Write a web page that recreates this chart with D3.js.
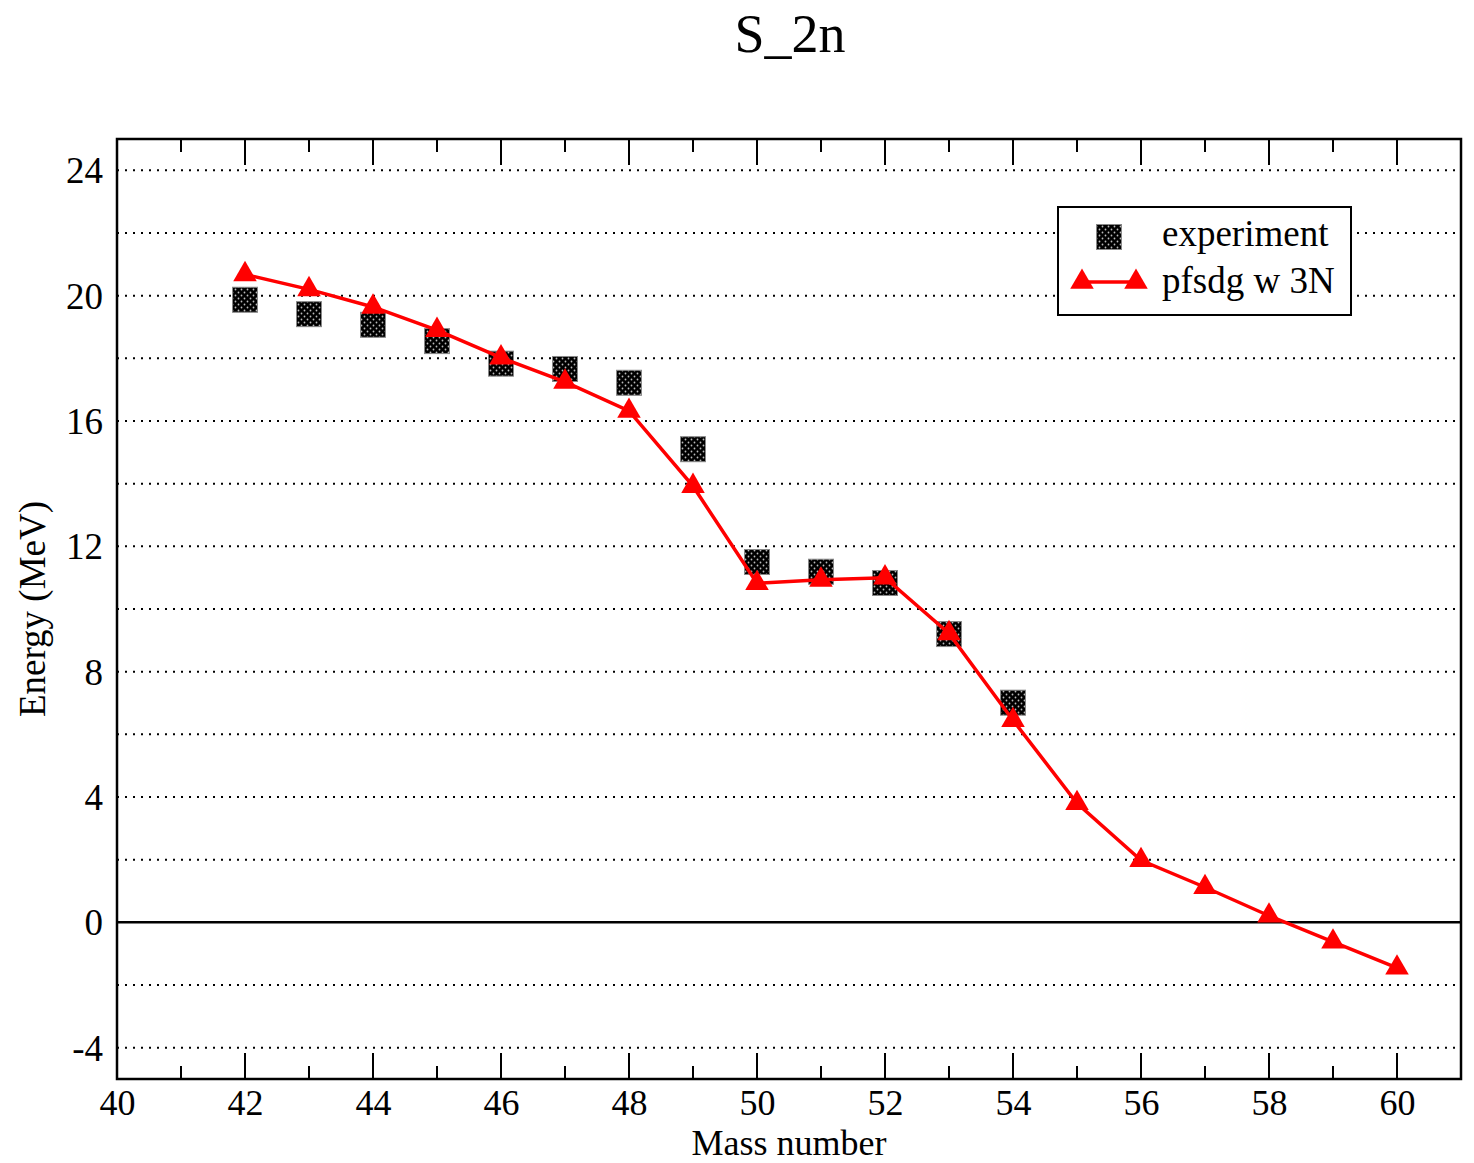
<!DOCTYPE html>
<html><head><meta charset="utf-8">
<script src="https://cdn.jsdelivr.net/npm/d3@7"></script>
<style>body{margin:0;background:#fff}svg{display:block}text{font-family:"Liberation Serif","Times New Roman",serif}</style>
</head><body>
<svg id="chart" width="1474" height="1163"></svg>
<script>
const expMass = [42,43,44,45,46,47,48,49,50,51,52,53,54];
const expEnergy = [19.87,19.41,19.07,18.55,17.83,17.66,17.22,15.1,11.5,11.19,10.83,9.2,7.01];
const thMass = [42,43,44,45,46,47,48,49,50,51,52,53,54,55,56,57,58,59,60];
const thEnergy = [20.68,20.2,19.64,18.9,18.02,17.25,16.32,13.92,10.82,10.93,11.0,9.22,6.45,3.8,1.98,1.12,0.21,-0.62,-1.45];
const xTicks = [40,42,44,46,48,50,52,54,56,58,60];
const yTicks = [-4,0,4,8,12,16,20,24];
const yGrid = [-4,-2,2,4,6,8,10,12,14,16,18,20,22,24];
const seriesNames = ["experiment","pfsdg w 3N"];

const svg = d3.select("#chart");
const L=117,R=1461,T=139,B=1079;
const x = d3.scaleLinear().domain([40,61]).range([L,R]);
const y = d3.scaleLinear().domain([-5,25]).range([B,T]);
const FS = 37;

const defs = svg.append("defs");
const pat = defs.append("pattern").attr("id","dots").attr("patternUnits","userSpaceOnUse")
  .attr("width",6).attr("height",6);
pat.append("rect").attr("width",6).attr("height",6).attr("fill","#000");
pat.append("circle").attr("cx",1.5).attr("cy",1.5).attr("r",0.9).attr("fill","#bbb");
pat.append("circle").attr("cx",4.5).attr("cy",4.5).attr("r",0.9).attr("fill","#bbb");

// grid
svg.append("g").selectAll("line").data(yGrid).join("line")
  .attr("x1",L).attr("x2",R).attr("y1",d=>y(d)).attr("y2",d=>y(d))
  .attr("stroke","#000").attr("stroke-width",2).attr("stroke-dasharray","2,6");
svg.append("line").attr("x1",L).attr("x2",R).attr("y1",y(0)).attr("y2",y(0))
  .attr("stroke","#000").attr("stroke-width",2.5);

// x ticks (inward, top & bottom)
const allX = d3.range(41,61);
const tk = svg.append("g").attr("stroke","#000").attr("stroke-width",2);
allX.forEach(v=>{
  const len = v%2===0?26:13;
  tk.append("line").attr("x1",x(v)).attr("x2",x(v)).attr("y1",B).attr("y2",B-len);
  tk.append("line").attr("x1",x(v)).attr("x2",x(v)).attr("y1",T).attr("y2",T+len);
});

// axes labels via d3 axis
const xAxis = svg.append("g").attr("transform",`translate(0,${B})`)
  .call(d3.axisBottom(x).tickValues(xTicks).tickFormat(d=>String(d)).tickSize(0).tickPadding(10));
xAxis.select(".domain").remove();
xAxis.selectAll("text").attr("font-size",36).attr("font-family","Liberation Serif").attr("fill","#000");
const yAxis = svg.append("g").attr("transform",`translate(${L},0)`)
  .call(d3.axisLeft(y).tickValues(yTicks).tickFormat(d=>String(d)).tickSize(0).tickPadding(14));
yAxis.select(".domain").remove();
yAxis.selectAll("text").attr("font-size",FS).attr("font-family","Liberation Serif").attr("fill","#000").attr("dy","0.34em");

// frame
svg.append("rect").attr("x",L).attr("y",T).attr("width",R-L).attr("height",B-T)
  .attr("fill","none").attr("stroke","#000").attr("stroke-width",2.5);

// experiment squares
const S=25;
svg.append("g").selectAll("rect").data(expMass).join("rect")
  .attr("x",(d)=>x(d)-S/2).attr("y",(d,i)=>y(expEnergy[i])-S/2)
  .attr("width",S).attr("height",S).attr("fill","url(#dots)").attr("stroke","#888").attr("stroke-width",1);

// theory line
const line = d3.line().x((d,i)=>x(thMass[i])).y((d,i)=>y(thEnergy[i]));
svg.append("path").datum(thMass).attr("d",line).attr("fill","none").attr("stroke","#f00").attr("stroke-width",3.5);
const tri = d3.symbol().type(d3.symbolTriangle).size(240);
svg.append("g").selectAll("path").data(thMass).join("path")
  .attr("d",tri).attr("transform",(d,i)=>`translate(${x(d)},${y(thEnergy[i])})`).attr("fill","#f00");

// titles
svg.append("text").attr("x",790).attr("y",52).attr("text-anchor","middle").attr("font-size",54).text("S_2n");
svg.append("text").attr("x",789).attr("y",1155).attr("text-anchor","middle").attr("font-size",36).text("Mass number");
svg.append("text").attr("transform",`translate(45,${(T+B)/2}) rotate(-90)`).attr("text-anchor","middle").attr("font-size",FS).text("Energy (MeV)");

// legend
const lg = svg.append("g");
lg.append("rect").attr("x",1058).attr("y",207).attr("width",293).attr("height",108).attr("fill","#fff").attr("stroke","#000").attr("stroke-width",2);
lg.append("rect").attr("x",1109-S/2).attr("y",237-S/2).attr("width",S).attr("height",S).attr("fill","url(#dots)").attr("stroke","#888");
lg.append("line").attr("x1",1080).attr("x2",1138).attr("y1",282).attr("y2",282).attr("stroke","#f00").attr("stroke-width",3.5);
[1082,1136].forEach(cx=>lg.append("path").attr("d",tri).attr("transform",`translate(${cx},${282})`).attr("fill","#f00"));
lg.append("text").attr("x",1162).attr("y",246).attr("font-size",FS).text(seriesNames[0]);
lg.append("text").attr("x",1162).attr("y",293).attr("font-size",FS).text(seriesNames[1]);
</script>
</body></html>
